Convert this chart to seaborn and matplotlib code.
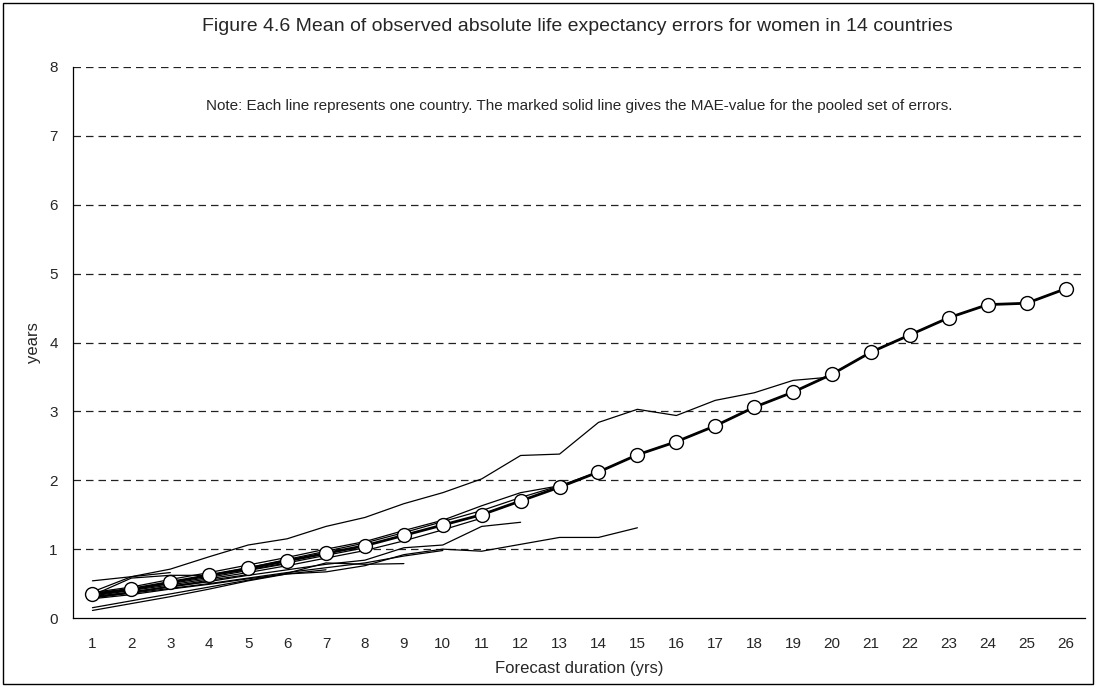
import matplotlib
matplotlib.use("Agg")
import matplotlib.pyplot as plt
import matplotlib.patches as patches
import seaborn as sns
import pandas as pd
import numpy as np

# forecast durations (years)
durations = list(range(1, 27))

# MAE for the pooled set of errors (marked line)
mae = [0.35, 0.42, 0.52, 0.62, 0.72, 0.83, 0.94, 1.05, 1.20, 1.35, 1.50, 1.70, 1.90,
       2.12, 2.37, 2.56, 2.79, 3.06, 3.28, 3.54, 3.86, 4.11, 4.36, 4.55, 4.57, 4.78]

# one line per country (series of different length)
country_a = [0.38, 0.60, 0.71, 0.89, 1.06, 1.15, 1.33, 1.46, 1.66, 1.82, 2.02, 2.36, 2.38,
             2.84, 3.03, 2.94, 3.16, 3.27, 3.45, 3.50]
country_b = [0.37, 0.45, 0.56, 0.66, 0.77, 0.88, 1.00, 1.11, 1.27, 1.42, 1.63, 1.82, 1.92,
             2.12, 2.37, 2.56, 2.79, 3.06, 3.28, 3.54, 3.86, 4.11, 4.36, 4.55, 4.57, 4.78]
country_c = [0.30, 0.37, 0.45, 0.53, 0.62, 0.70, 0.78, 0.84, 1.02, 1.06, 1.33, 1.39]
country_d = [0.11, 0.21, 0.31, 0.42, 0.54, 0.64, 0.67, 0.76, 0.92, 1.00, 0.97, 1.07, 1.17,
             1.17, 1.31]
country_e = [0.15, 0.25, 0.35, 0.45, 0.55, 0.65, 0.80, 0.78, 0.79]
country_f = [0.54, 0.60, 0.66]
country_g = [0.33, 0.58, 0.62, 0.62, 0.70, 0.80, 0.91, 1.02]
country_h = [0.30, 0.36, 0.43, 0.50, 0.58, 0.66, 0.73, 0.80, 0.90, 0.98]
country_i = [0.32, 0.40, 0.48, 0.57, 0.66, 0.76, 0.87, 0.98, 1.12, 1.28, 1.45]
country_j = [0.28, 0.34, 0.42, 0.49, 0.57, 0.64, 0.70]
country_k = [0.34, 0.41, 0.50, 0.59, 0.69, 0.79]
country_l = [0.29, 0.37, 0.46, 0.55, 0.63]
country_m = [0.31, 0.38, 0.46, 0.53]
country_n = [0.33, 0.42, 0.52, 0.62, 0.73, 0.85, 0.97, 1.09, 1.24, 1.40, 1.56, 1.75, 1.92]

countries = {
    "A": country_a, "B": country_b, "C": country_c, "D": country_d, "E": country_e,
    "F": country_f, "G": country_g, "H": country_h, "I": country_i, "J": country_j,
    "K": country_k, "L": country_l, "M": country_m, "N": country_n,
}

rows = []
for name, vals in countries.items():
    for d, v in zip(durations, vals):
        rows.append({"country": name, "duration": d, "error": v})
df = pd.DataFrame(rows)
df_mae = pd.DataFrame({"duration": durations, "mae": mae})

sns.set_style("white")
plt.rcParams["font.family"] = ["Liberation Sans", "DejaVu Sans"]

fig = plt.figure(figsize=(10.96, 6.87), dpi=100)
ax = fig.add_axes([0.0666, 0.1004, 0.9234, 0.8021])

# dashed horizontal gridlines
for yv in range(1, 9):
    ax.axhline(yv, color="#222222", lw=0.9, ls=(0, (6, 4)), zorder=0)

sns.lineplot(data=df, x="duration", y="error", units="country", estimator=None,
             color="black", lw=0.9, ax=ax, legend=False)
sns.lineplot(data=df_mae, x="duration", y="mae", color="black", lw=2.0,
             marker="o", markersize=10, markerfacecolor="white",
             markeredgecolor="black", markeredgewidth=1.0, ax=ax, zorder=5)

ax.set_xlim(0.5, 26.5)
ax.set_ylim(0, 8)
ax.set_yticks(range(0, 9))
ax.set_xticks(durations)
ax.set_xticklabels([str(d) for d in durations], fontsize=11)
ax.set_xticks(np.arange(0.5, 27, 1), minor=True)
ax.tick_params(axis="x", which="major", length=0, pad=14)
ax.tick_params(axis="x", which="minor", length=5, width=0.8, color="black", direction="out")
ax.tick_params(axis="y", length=5, width=0.8, color="black", direction="out", labelsize=11, pad=6)

for side in ["top", "right"]:
    ax.spines[side].set_visible(False)
for side in ["left", "bottom"]:
    ax.spines[side].set_color("black")
    ax.spines[side].set_linewidth(0.9)

ax.set_xlabel("Forecast duration (yrs)", fontsize=12, labelpad=7)
ax.set_ylabel("years", fontsize=12, labelpad=6)

fig.text(0.527, 0.962, "Figure 4.6 Mean of observed absolute life expectancy errors for women in 14 countries",
         ha="center", va="center", fontsize=14)
ax.text(0.5, 0.93, "Note: Each line represents one country. The marked solid line gives the MAE-value for the pooled set of errors.",
        transform=ax.transAxes, ha="center", va="center", fontsize=11)

# frame around the whole chart
fig.patches.append(patches.Rectangle((0.003, 0.004), 0.994, 0.992, transform=fig.transFigure,
                                     fill=False, edgecolor="black", lw=1.0))

plt.savefig("out.png", dpi=100)
plt.close()
